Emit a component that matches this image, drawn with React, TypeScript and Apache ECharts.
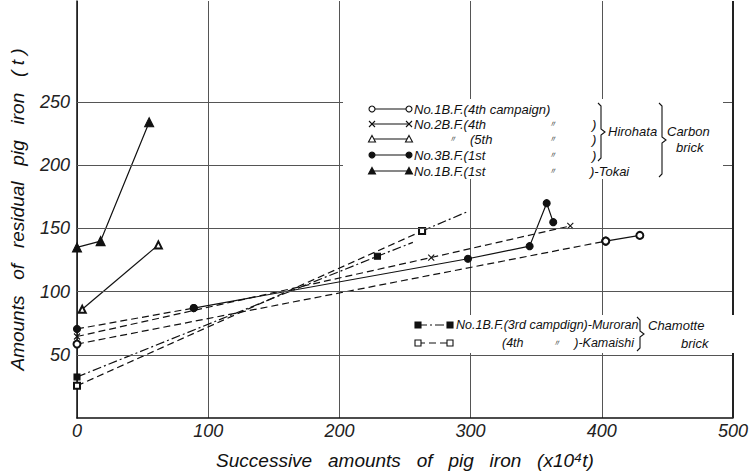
import React, { useEffect, useRef } from "react";
import * as echarts from "echarts";

// ---- data (x: successive pig iron x10^4 t, y: residual pig iron t) ----
const hiro1_4th_x = [0, 403, 429];
const hiro1_4th_y = [58.5, 140, 144.5];
const hiro2_4th_x = [0, 270, 376];
const hiro2_4th_y = [64.5, 127, 152];
const hiro2_5th_x = [4, 62];
const hiro2_5th_y = [86, 137];
const hiro3_1st_x = [0, 89, 298, 345, 358, 363];
const hiro3_1st_y = [70.5, 87, 126, 136, 170, 155];
const tokai_x = [0, 18, 55];
const tokai_y = [135, 140, 234];
const muroran_x = [0, 229, 256];
const muroran_y = [32.5, 128, 139];
const kamaishi_x = [0, 263, 297];
const kamaishi_y = [25.5, 148, 163];

const xTicks = [0, 100, 200, 300, 400, 500];
const yTickLabels = [50, 100, 150, 200, 250];

const FONT = "'Liberation Sans', Arial, sans-serif";
const INK = "#111";
const CROSS = "path://M0 0L10 10M10 0L0 10";
const DASH = [7, 4];
const DASHDOT = [9, 3, 2, 3];

function pts(xs: number[], ys: number[], from = 0, to = xs.length - 1) {
  const out: number[][] = [];
  for (let i = from; i <= to; i++) out.push([xs[i], ys[i]]);
  return out;
}

function lineSeries(data: any[], symbol: string, size: number, dash: any, extra: any = {}) {
  return {
    type: "line",
    data,
    symbol,
    symbolSize: size,
    showSymbol: true,
    lineStyle: { color: INK, width: 1.2, type: dash },
    itemStyle: { color: INK, borderColor: INK, borderWidth: 1.1 },
    z: 3,
    ...extra,
  };
}

// legend helpers (decoration only)
function marker(kind: string, x: number, y: number): any[] {
  const st = { stroke: INK, lineWidth: 1.1, fill: INK };
  const open = { stroke: INK, lineWidth: 1.1, fill: "#fff" };
  switch (kind) {
    case "oc":
      return [{ type: "circle", shape: { cx: x, cy: y, r: 3 }, style: open, z: 102 }];
    case "fc":
      return [{ type: "circle", shape: { cx: x, cy: y, r: 3 }, style: st, z: 102 }];
    case "x":
      return [
        { type: "line", shape: { x1: x - 3, y1: y - 3, x2: x + 3, y2: y + 3 }, style: { stroke: INK, lineWidth: 1.1 }, z: 102 },
        { type: "line", shape: { x1: x + 3, y1: y - 3, x2: x - 3, y2: y + 3 }, style: { stroke: INK, lineWidth: 1.1 }, z: 102 },
      ];
    case "ot":
      return [{ type: "polygon", shape: { points: [[x, y - 3.5], [x + 3.5, y + 3], [x - 3.5, y + 3]] }, style: open, z: 102 }];
    case "ft":
      return [{ type: "polygon", shape: { points: [[x, y - 3.5], [x + 3.5, y + 3], [x - 3.5, y + 3]] }, style: st, z: 102 }];
    case "fr":
      return [{ type: "rect", shape: { x: x - 3, y: y - 3, width: 6, height: 6 }, style: st, z: 102 }];
    case "or":
      return [{ type: "rect", shape: { x: x - 3, y: y - 3, width: 6, height: 6 }, style: open, z: 102 }];
  }
  return [];
}

function legendRow(kind: string, y: number, x1: number, x2: number, dash: any): any[] {
  return [
    { type: "line", shape: { x1, y1: y, x2, y2: y }, style: { stroke: INK, lineWidth: 1.1, lineDash: dash || null }, z: 101 },
    ...marker(kind, x1, y),
    ...marker(kind, x2, y),
  ];
}

function txt(text: string, x: number, y: number, size = 13, align = "left"): any {
  return {
    type: "text",
    x,
    y,
    z: 103,
    style: { text, fill: INK, font: `italic ${size}px ${FONT}`, textAlign: align, textVerticalAlign: "middle" },
  };
}

function brace(x: number, top: number, bottom: number): any {
  const mid = (top + bottom) / 2;
  return {
    type: "polyline",
    z: 103,
    shape: {
      points: [
        [x, top],
        [x + 3, top + 3],
        [x + 3, mid - 3],
        [x + 7, mid],
        [x + 3, mid + 3],
        [x + 3, bottom - 3],
        [x, bottom],
      ],
    },
    style: { stroke: INK, lineWidth: 1.1, fill: null },
  };
}

export default function App() {
  const ref = useRef<HTMLDivElement>(null);

  useEffect(() => {
    if (!ref.current) return;
    const chart = echarts.init(ref.current, undefined, { renderer: "svg" });

    const rows = [109, 124, 139, 155, 171];
    const lrows = [325, 343];
    const graphic: any[] = [
      { type: "rect", shape: { x: 343, y: 99, width: 380, height: 80 }, style: { fill: "#fff" }, z: 100 },
      { type: "rect", shape: { x: 410, y: 315, width: 326, height: 38 }, style: { fill: "#fff" }, z: 100 },
      ...legendRow("oc", rows[0], 372, 409, null),
      ...legendRow("x", rows[1], 372, 409, null),
      ...legendRow("ot", rows[2], 372, 409, null),
      ...legendRow("fc", rows[3], 372, 409, null),
      ...legendRow("ft", rows[4], 372, 409, null),
      txt("No.1B.F.(4th campaign)", 414, rows[0]),
      txt("No.2B.F.(4th", 414, rows[1]),
      txt("〃", 548, rows[1], 9),
      txt(")", 592, rows[1]),
      txt("〃", 448, rows[2], 9),
      txt("(5th", 470, rows[2]),
      txt("〃", 548, rows[2], 9),
      txt(")", 592, rows[2]),
      txt("No.3B.F.(1st", 414, rows[3]),
      txt("〃", 548, rows[3], 9),
      txt(")", 592, rows[3]),
      txt("No.1B.F.(1st", 414, rows[4]),
      txt("〃", 548, rows[4], 9),
      txt(")-Tokai", 590, rows[4]),
      brace(598, 103, 161),
      txt("Hirohata", 608, 131),
      brace(659, 103, 177),
      txt("Carbon", 667, 131),
      txt("brick", 676, 147),
      ...legendRow("fr", lrows[0], 418, 450, DASHDOT),
      ...legendRow("or", lrows[1], 418, 450, DASH),
      txt("No.1B.F.(3rd campdign)-Muroran", 456, lrows[0], 12.5),
      txt("(4th", 502, lrows[1], 12.5),
      txt("〃", 552, lrows[1], 9),
      txt(")-Kamaishi", 634, lrows[1], 12.5, "right"),
      brace(637, 317, 351),
      txt("Chamotte", 648, lrows[0]),
      txt("brick", 681, lrows[1]),
    ];

    const option: any = {
      animation: false,
      backgroundColor: "#fff",
      grid: { left: 74, right: 12, top: 1, bottom: 45, containLabel: false },
      xAxis: {
        type: "value",
        min: xTicks[0],
        max: xTicks[xTicks.length - 1],
        interval: 100,
        name: "Successive   amounts   of   pig   iron   (x10⁴t)",
        nameLocation: "middle",
        nameGap: 33,
        nameTextStyle: { fontFamily: FONT, fontStyle: "italic", fontSize: 19, color: INK },
        axisLine: { show: true, lineStyle: { color: INK, width: 1.5 } },
        axisTick: { show: false },
        axisLabel: { fontFamily: FONT, fontStyle: "italic", fontSize: 18, color: "#222", margin: 4 },
        splitLine: { show: true, lineStyle: { color: "#555", width: 1 } },
      },
      yAxis: {
        type: "value",
        min: 0,
        max: 330,
        interval: 50,
        name: "Amounts   of   residual   pig   iron   ( t )",
        nameLocation: "middle",
        nameGap: 50,
        nameRotate: 90,
        nameTextStyle: { fontFamily: FONT, fontStyle: "italic", fontSize: 19, color: INK },
        axisLine: { show: true, lineStyle: { color: INK, width: 1.5 } },
        axisTick: { show: false },
        axisLabel: {
          fontFamily: FONT,
          fontStyle: "italic",
          fontSize: 18,
          color: "#222",
          margin: 7,
          formatter: (v: number) => (yTickLabels.indexOf(v) >= 0 ? String(v) : ""),
        },
        splitLine: { show: false },
      },
      graphic,
      series: [
        lineSeries(pts(hiro1_4th_x, hiro1_4th_y, 0, 1), "emptyCircle", 7, DASH, {
          markLine: {
            silent: true,
            symbol: "none",
            label: { show: false },
            lineStyle: { color: "#555", width: 1, type: "solid" },
            data: [
              ...yTickLabels.map((v) => ({ yAxis: v })),
              { xAxis: xTicks[xTicks.length - 1], lineStyle: { color: "#222", width: 2, type: "solid" } },
            ],
          },
        }),
        lineSeries(pts(hiro1_4th_x, hiro1_4th_y, 1, 2), "emptyCircle", 7, "solid"),
        lineSeries(pts(hiro2_4th_x, hiro2_4th_y), CROSS, 6, DASH),
        lineSeries(pts(hiro2_5th_x, hiro2_5th_y), "emptyTriangle", 7, "solid"),
        lineSeries(pts(hiro3_1st_x, hiro3_1st_y, 0, 1), "circle", 7, DASH),
        lineSeries(pts(hiro3_1st_x, hiro3_1st_y, 1, 5), "circle", 7, "solid"),
        lineSeries(pts(tokai_x, tokai_y), "triangle", 9, "solid"),
        lineSeries(
          pts(muroran_x, muroran_y).map((p, i) => (i === muroran_x.length - 1 ? { value: p, symbol: "none" } : p)),
          "rect",
          6,
          DASHDOT
        ),
        lineSeries(pts(kamaishi_x, kamaishi_y, 0, 1), "emptyRect", 6, DASH),
        lineSeries(
          pts(kamaishi_x, kamaishi_y, 1, 2).map((p, i) => (i === 1 ? { value: p, symbol: "none" } : p)),
          "emptyRect",
          6,
          DASHDOT
        ),
      ],
    };

    chart.setOption(option);
    return () => chart.dispose();
  }, []);

  return <div ref={ref} style={{ position: "fixed", left: 0, top: 0, width: 751, height: 475 }} />;
}
